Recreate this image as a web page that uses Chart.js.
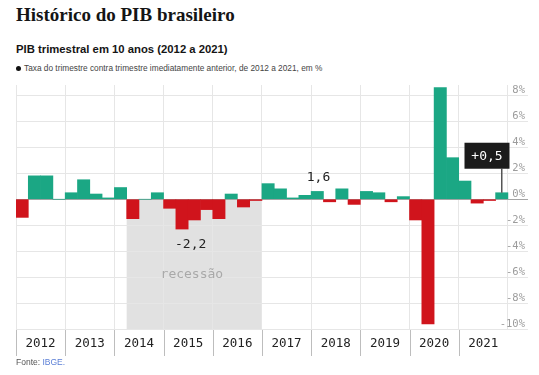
<!DOCTYPE html>
<html lang="pt-BR">
<head>
<meta charset="UTF-8">
<title>Histórico do PIB brasileiro</title>
<script src="https://cdn.jsdelivr.net/npm/chart.js"></script>
<style>
  body { margin: 0; background: #fff; width: 539px; height: 375px; position: relative; overflow: hidden; font-family: "Liberation Sans", Arial, sans-serif; }
  h1 { position: absolute; left: 16px; top: 5px; margin: 0; font: bold 19px/1 "Liberation Serif", serif; color: #151515; }
  h2 { position: absolute; left: 16px; top: 44px; margin: 0; font: bold 11.3px/1 "Liberation Sans", sans-serif; color: #151515; }
  .legend { position: absolute; left: 16px; top: 64px; font-size: 8.3px; line-height: 1; color: #444; white-space: nowrap; }
  .legend .dot { display: inline-block; width: 5px; height: 5px; border-radius: 50%; background: #111; margin-right: 3px; vertical-align: 0; }
  .chart-box { position: absolute; left: 0; top: 78px; width: 539px; height: 282px; }
  .source { position: absolute; left: 16px; top: 358px; font-size: 8.5px; line-height: 1; color: #555; }
  .source span { color: #5b7fd6; }
</style>
</head>
<body>
  <h1>Histórico do PIB brasileiro</h1>
  <h2>PIB trimestral em 10 anos (2012 a 2021)</h2>
  <div class="legend"><span class="dot"></span>Taxa do trimestre contra trimestre imediatamente anterior, de 2012 a 2021, em %</div>

  <div class="chart-box"><canvas id="pib"></canvas></div>

  <div class="source">Fonte: <span>IBGE.</span></div>

<script>
// anos no eixo x (4 trimestres cada)
const years = ['2012', '2013', '2014', '2015', '2016', '2017', '2018', '2019', '2020', '2021'];

// taxa trimestral (%), de 2012 T1 a 2021 T4
const rates = [
  -1.4, 1.8, 1.8, 0.0,
   0.5, 1.5, 0.4, 0.1,
   0.9, -1.5, 0.0, 0.5,
  -0.7, -2.3, -1.6, -0.8,
  -1.5, 0.4, -0.6, -0.1,
   1.2, 0.8, 0.1, 0.3,
   0.6, -0.2, 0.8, -0.4,
   0.6, 0.5, -0.2, 0.2,
  -1.6, -9.6, 8.6, 3.2,
   1.4, -0.3, -0.1, 0.5
];

// linhas de grade do eixo y (%)
const yGrid = [-10, -9, -8, -7, -6, -5, -4, -3, -2, -1, 0, 1, 2, 3, 4, 5, 6, 7, 8];

// faixa da recessão, em trimestres (2014 T2 até o fim de 2016)
const recession = [9, 20];

// textos soltos no gráfico (posição em trimestres / %)
const notes = [
  { text: '1,6', x: 24.6, y: 1.65, color: '#222' },
  { text: '-2,2', x: 14.2, y: -3.5, color: '#222' },
  { text: 'recessão', x: 14.3, y: -5.8, color: '#a9a9a9' }
];

// destaque do último trimestre
const callout = { text: '+0,5', x: 38.3, y: 3.35, bar: 39 };

const TEAL = '#1ba784';
const RED = '#d0141c';
const MONO = '"DejaVu Sans Mono", monospace';

const points = rates.map((v, i) => ({ x: i + 0.5, y: v }));

const notesPlugin = {
  id: 'notes',
  beforeDraw(chart) {
    const { ctx, chartArea, scales: { x, y } } = chart;
    const x0 = x.getPixelForValue(recession[0]);
    const x1 = x.getPixelForValue(recession[1]);
    const y0 = y.getPixelForValue(0);
    ctx.save();
    ctx.fillStyle = '#e1e1e1';
    ctx.fillRect(x0, y0, x1 - x0, chartArea.bottom - y0);

    // separadores dos anos abaixo do gráfico
    ctx.strokeStyle = '#bdbdbd';
    ctx.lineWidth = 1;
    years.forEach((yr, i) => {
      const px = Math.round(x.getPixelForValue(i * 4)) + 0.5;
      ctx.beginPath();
      ctx.moveTo(px, chartArea.bottom);
      ctx.lineTo(px, chartArea.bottom + 27);
      ctx.stroke();
    });
    ctx.restore();
  },
  afterDatasetsDraw(chart) {
    const { ctx, scales: { x, y } } = chart;
    ctx.save();
    ctx.font = '13px ' + MONO;
    ctx.textAlign = 'center';
    ctx.textBaseline = 'middle';
    notes.forEach(n => {
      ctx.fillStyle = n.color;
      ctx.fillText(n.text, x.getPixelForValue(n.x), y.getPixelForValue(n.y));
    });

    // caixa preta com o valor do último trimestre
    const cx = x.getPixelForValue(callout.x);
    const cy = y.getPixelForValue(callout.y);
    const w = 45, h = 26;
    const lx = x.getPixelForValue(callout.bar + 0.5);
    ctx.strokeStyle = '#555';
    ctx.lineWidth = 1.5;
    ctx.beginPath();
    ctx.moveTo(lx, cy + h / 2);
    ctx.lineTo(lx, y.getPixelForValue(rates[callout.bar]));
    ctx.stroke();
    ctx.fillStyle = '#1b1b1b';
    ctx.fillRect(cx - w / 2, cy - h / 2, w, h);
    ctx.fillStyle = '#fff';
    ctx.fillText(callout.text, cx, cy + 1);
    ctx.restore();
  }
};

new Chart(document.getElementById('pib'), {
  type: 'bar',
  data: {
    datasets: [{
      data: points,
      backgroundColor: points.map(p => p.y >= 0 ? TEAL : RED),
      borderWidth: 0,
      barPercentage: 1,
      categoryPercentage: 1
    }]
  },
  options: {
    responsive: true,
    maintainAspectRatio: false,
    animation: false,
    layout: { padding: { top: 7, left: 16, right: 11, bottom: 2 } },
    plugins: { legend: { display: false }, tooltip: { enabled: false } },
    scales: {
      x: {
        type: 'linear',
        min: 0,
        max: 41.39,
        offset: false,
        // um tick no meio de cada ano; as linhas de grade ficam entre eles
        afterBuildTicks: s => { s.ticks = years.map((yr, i) => ({ value: i * 4 + 2 })); },
        grid: {
          offset: true,
          drawTicks: false,
          color: c => c.index >= years.length ? 'rgba(0,0,0,0)' : '#e6e6e6'
        },
        border: { display: false },
        ticks: {
          autoSkip: false,
          maxRotation: 0,
          padding: 7,
          color: '#222',
          font: { family: MONO, size: 12.5 },
          callback: (v, i) => years[i]
        }
      },
      y: {
        position: 'right',
        min: -10,
        max: 8.8,
        afterBuildTicks: s => { s.ticks = yGrid.map(v => ({ value: v })); },
        grid: {
          color: c => c.tick && c.tick.value === 0 ? '#a5a5a5' : '#e6e6e6',
          drawTicks: true,
          tickLength: 3,
          tickColor: c => c.tick && c.tick.value === 0 ? '#a5a5a5' : '#e6e6e6'
        },
        border: { display: false },
        ticks: {
          mirror: true,
          padding: 0,
          labelOffset: -5,
          color: '#9c9c9c',
          font: { family: MONO, size: 10.5 },
          callback: v => v % 2 === 0 ? v + '%' : ''
        }
      }
    }
  },
  plugins: [notesPlugin]
});
</script>
</body>
</html>
